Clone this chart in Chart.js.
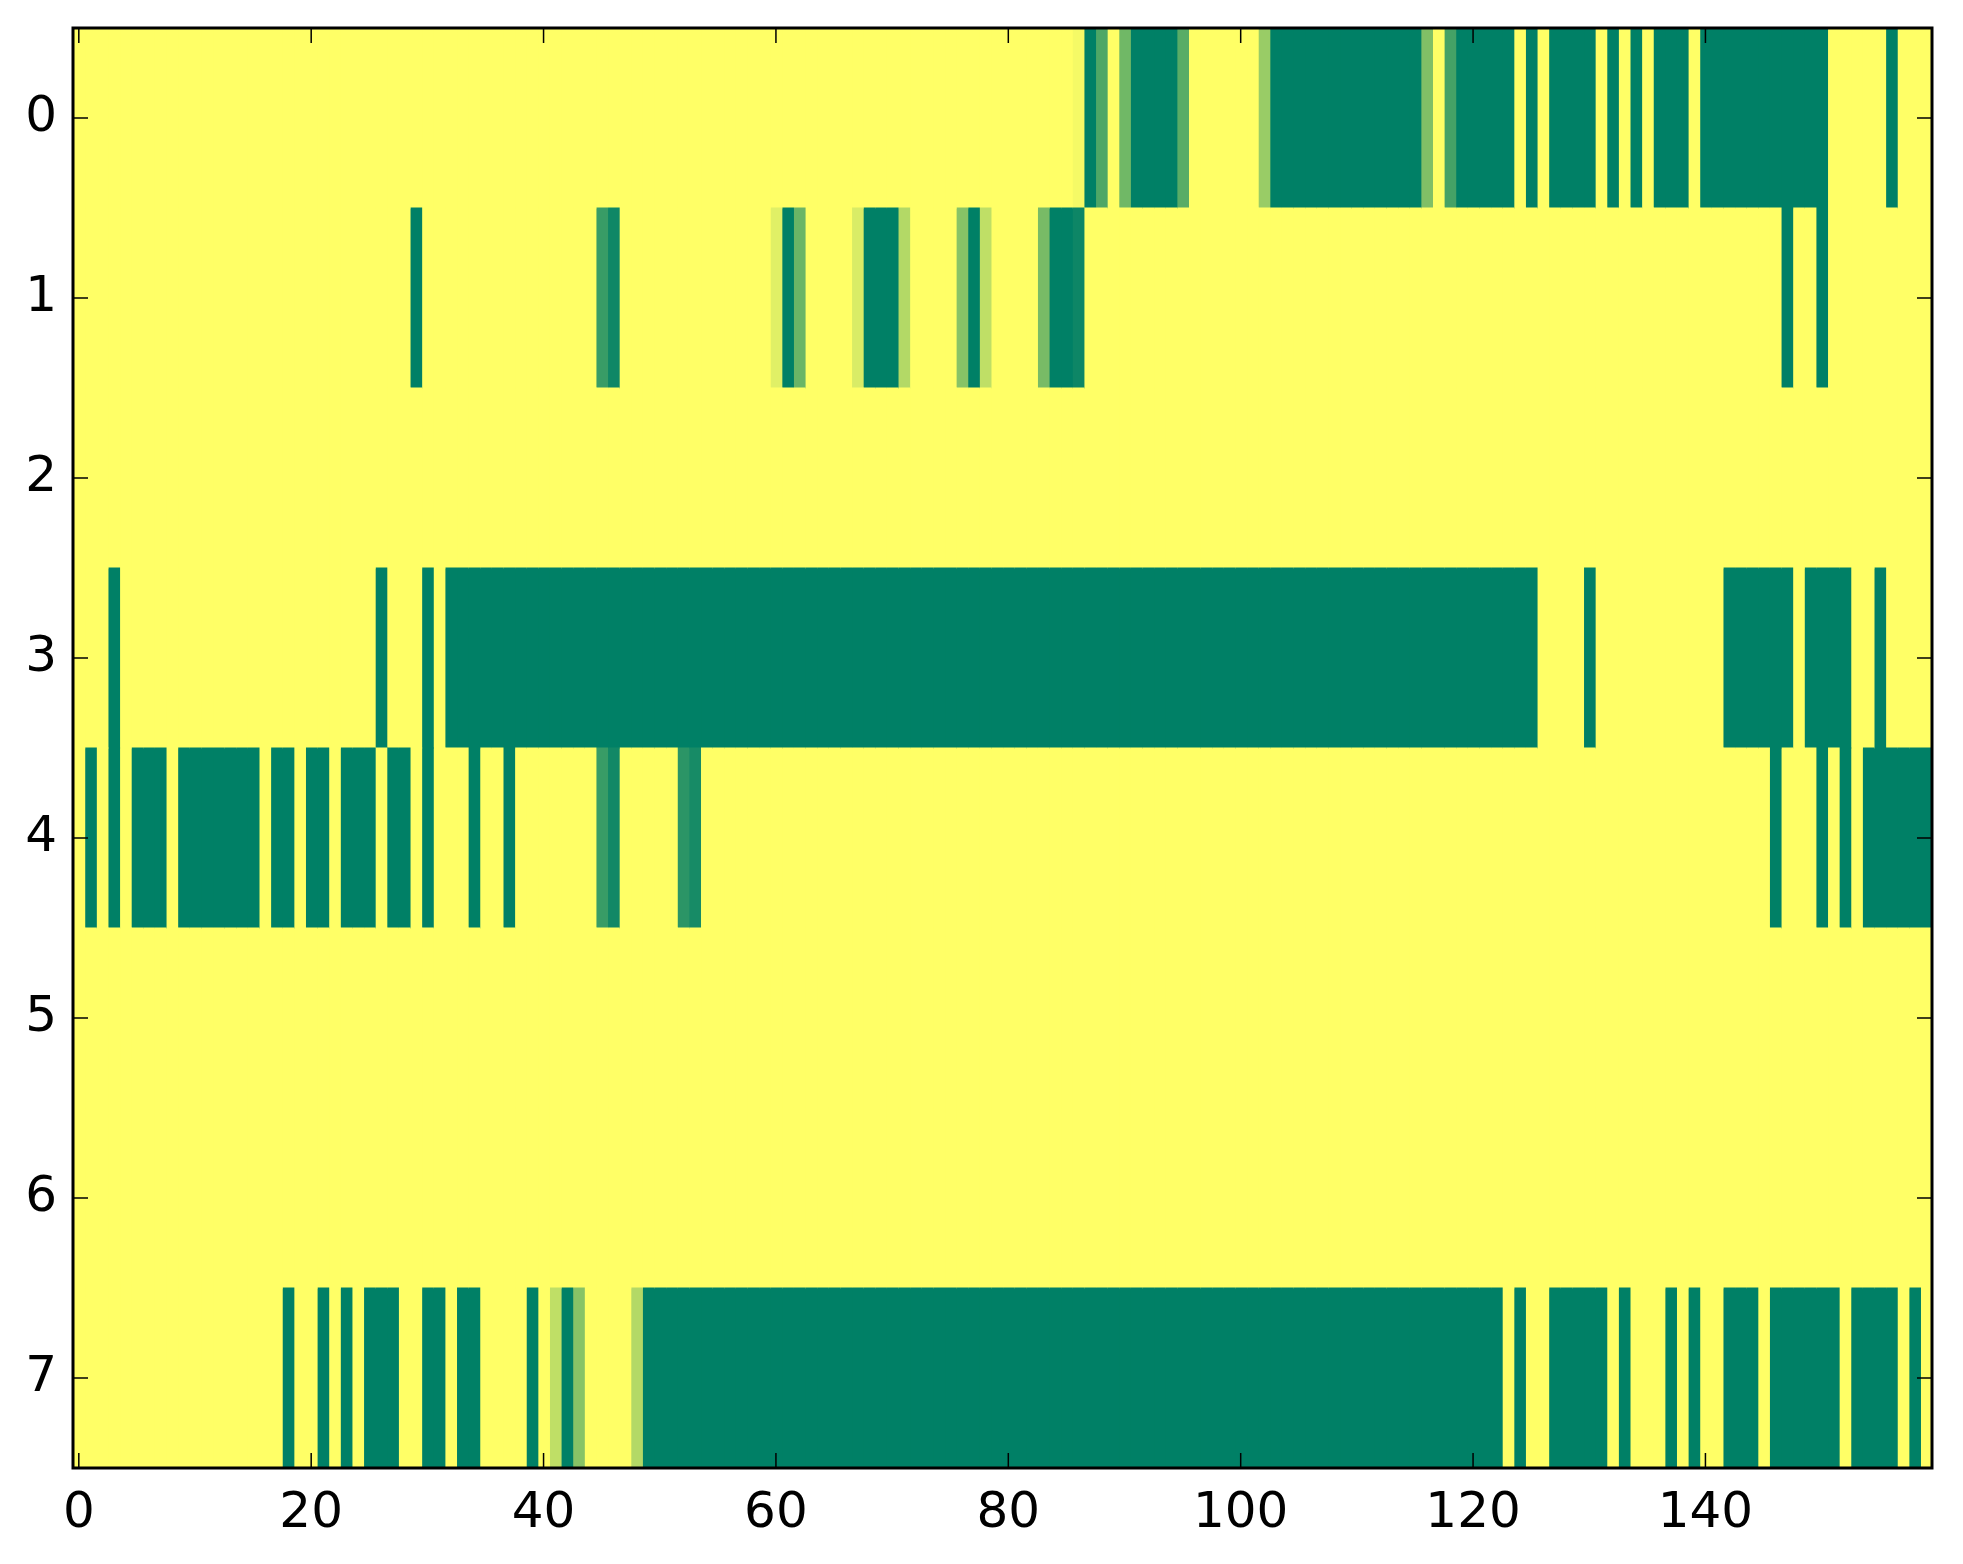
<!DOCTYPE html>
<html>
<head>
<meta charset="utf-8">
<script src="https://cdn.jsdelivr.net/npm/chart.js@4.4.1/dist/chart.umd.min.js"></script>
<style>
  html, body { margin: 0; padding: 0; background: #ffffff; }
  #wrap { width: 1963px; height: 1564px; }
</style>
</head>
<body>
<div id="wrap"><canvas id="c" width="1963" height="1564"></canvas></div>
<script>
// Row labels (y categories)
const rowLabels = ['0', '1', '2', '3', '4', '5', '6', '7'];
// X tick values
const xTickValues = [0, 20, 40, 60, 80, 100, 120, 140];

// Cell values per row (0 = dark green, 1 = yellow), 160 columns each
const row0 = [
  1,1,1,1,1,1,1,1,1,1, 1,1,1,1,1,1,1,1,1,1, 1,1,1,1,1,1,1,1,1,1, 1,1,1,1,1,1,1,1,1,1,
  1,1,1,1,1,1,1,1,1,1, 1,1,1,1,1,1,1,1,1,1, 1,1,1,1,1,1,1,1,1,1, 1,1,1,1,1,1,1,1,1,1,
  1,1,1,1,1,1,.96,0,.31,1, .44,0,0,0,0,.35,1,1,1,1, 1,1,.6,0,0,0,0,0,0,0, 0,0,0,0,0,0,.5,1,.27,0,
  0,0,0,0,1,0,1,0,0,0, 0,1,0,1,0,1,0,0,0,1, 0,0,0,0,0,0,0,0,0,0, 0,1,1,1,1,1,0,1,1,1
];
const row1 = [
  1,1,1,1,1,1,1,1,1,1, 1,1,1,1,1,1,1,1,1,1, 1,1,1,1,1,1,1,1,1,0, 1,1,1,1,1,1,1,1,1,1,
  1,1,1,1,1,.22,.06,1,1,1, 1,1,1,1,1,1,1,1,1,1, .88,0,.42,1,1,1,1,.85,0,0, 0,.7,1,1,1,1,.53,0,.75,1,
  1,1,1,.47,0,0,.05,1,1,1, 1,1,1,1,1,1,1,1,1,1, 1,1,1,1,1,1,1,1,1,1, 1,1,1,1,1,1,1,1,1,1,
  1,1,1,1,1,1,1,1,1,1, 1,1,1,1,1,1,1,1,1,1, 1,1,1,1,1,1,1,0,1,1, 0,1,1,1,1,1,1,1,1,1
];
const row2 = [
  1,1,1,1,1,1,1,1,1,1, 1,1,1,1,1,1,1,1,1,1, 1,1,1,1,1,1,1,1,1,1, 1,1,1,1,1,1,1,1,1,1,
  1,1,1,1,1,1,1,1,1,1, 1,1,1,1,1,1,1,1,1,1, 1,1,1,1,1,1,1,1,1,1, 1,1,1,1,1,1,1,1,1,1,
  1,1,1,1,1,1,1,1,1,1, 1,1,1,1,1,1,1,1,1,1, 1,1,1,1,1,1,1,1,1,1, 1,1,1,1,1,1,1,1,1,1,
  1,1,1,1,1,1,1,1,1,1, 1,1,1,1,1,1,1,1,1,1, 1,1,1,1,1,1,1,1,1,1, 1,1,1,1,1,1,1,1,1,1
];
const row3 = [
  1,1,1,0,1,1,1,1,1,1, 1,1,1,1,1,1,1,1,1,1, 1,1,1,1,1,1,0,1,1,1, 0,1,0,0,0,0,0,0,0,0,
  0,0,0,0,0,0,0,0,0,0, 0,0,0,0,0,0,0,0,0,0, 0,0,0,0,0,0,0,0,0,0, 0,0,0,0,0,0,0,0,0,0,
  0,0,0,0,0,0,0,0,0,0, 0,0,0,0,0,0,0,0,0,0, 0,0,0,0,0,0,0,0,0,0, 0,0,0,0,0,0,0,0,0,0,
  0,0,0,0,0,0,1,1,1,1, 0,1,1,1,1,1,1,1,1,1, 1,1,0,0,0,0,0,0,1,0, 0,0,0,1,1,0,1,1,1,1
];
const row4 = [
  1,0,1,0,1,0,0,0,1,0, 0,0,0,0,0,0,1,0,0,1, 0,0,1,0,0,0,1,0,0,1, 0,1,1,1,0,1,1,0,1,1,
  1,1,1,1,1,.22,.07,1,1,1, 1,1,.17,.09,1,1,1,1,1,1, 1,1,1,1,1,1,1,1,1,1, 1,1,1,1,1,1,1,1,1,1,
  1,1,1,1,1,1,1,1,1,1, 1,1,1,1,1,1,1,1,1,1, 1,1,1,1,1,1,1,1,1,1, 1,1,1,1,1,1,1,1,1,1,
  1,1,1,1,1,1,1,1,1,1, 1,1,1,1,1,1,1,1,1,1, 1,1,1,1,1,1,0,1,1,1, 0,1,0,1,0,0,0,0,0,0
];
const row5 = [
  1,1,1,1,1,1,1,1,1,1, 1,1,1,1,1,1,1,1,1,1, 1,1,1,1,1,1,1,1,1,1, 1,1,1,1,1,1,1,1,1,1,
  1,1,1,1,1,1,1,1,1,1, 1,1,1,1,1,1,1,1,1,1, 1,1,1,1,1,1,1,1,1,1, 1,1,1,1,1,1,1,1,1,1,
  1,1,1,1,1,1,1,1,1,1, 1,1,1,1,1,1,1,1,1,1, 1,1,1,1,1,1,1,1,1,1, 1,1,1,1,1,1,1,1,1,1,
  1,1,1,1,1,1,1,1,1,1, 1,1,1,1,1,1,1,1,1,1, 1,1,1,1,1,1,1,1,1,1, 1,1,1,1,1,1,1,1,1,1
];
const row6 = [
  1,1,1,1,1,1,1,1,1,1, 1,1,1,1,1,1,1,1,1,1, 1,1,1,1,1,1,1,1,1,1, 1,1,1,1,1,1,1,1,1,1,
  1,1,1,1,1,1,1,1,1,1, 1,1,1,1,1,1,1,1,1,1, 1,1,1,1,1,1,1,1,1,1, 1,1,1,1,1,1,1,1,1,1,
  1,1,1,1,1,1,1,1,1,1, 1,1,1,1,1,1,1,1,1,1, 1,1,1,1,1,1,1,1,1,1, 1,1,1,1,1,1,1,1,1,1,
  1,1,1,1,1,1,1,1,1,1, 1,1,1,1,1,1,1,1,1,1, 1,1,1,1,1,1,1,1,1,1, 1,1,1,1,1,1,1,1,1,1
];
const row7 = [
  1,1,1,1,1,1,1,1,1,1, 1,1,1,1,1,1,1,1,0,1, 1,0,1,0,1,0,0,0,1,1, 0,0,1,0,0,1,1,1,1,0,
  1,.75,0,.53,1,1,1,1,.7,0, 0,0,0,0,0,0,0,0,0,0, 0,0,0,0,0,0,0,0,0,0, 0,0,0,0,0,0,0,0,0,0,
  0,0,0,0,0,0,0,0,0,0, 0,0,0,0,0,0,0,0,0,0, 0,0,0,0,0,0,0,0,0,0, 0,0,0,0,0,0,0,0,0,0,
  0,0,0,1,0,1,1,0,0,0, 0,0,1,0,1,1,1,0,1,0, 1,1,0,0,0,1,0,0,0,0, 0,0,1,0,0,0,0,1,0,1
];

const rows = [row0, row1, row2, row3, row4, row5, row6, row7];

// 'summer' colormap
function summer(v) {
  const r = Math.round(255 * v);
  const g = Math.round(255 * (0.5 + 0.5 * v));
  return 'rgb(' + r + ',' + g + ',102)';
}

const nCols = row0.length;
const datasets = [];
for (let c = 0; c < nCols; c++) {
  datasets.push({
    data: rows.map(() => [c - 0.5, c + 0.5]),
    backgroundColor: rows.map(r => summer(r[c])),
    borderWidth: 0,
    grouped: false,
    barPercentage: 1.0,
    categoryPercentage: 1.0,
    inflateAmount: 0.6
  });
}

const FONT = { family: 'DejaVu Sans', size: 50 };

const framePlugin = {
  id: 'frame',
  afterDatasetsDraw(chart) {
    const ctx = chart.ctx;
    const a = chart.chartArea;
    const xs = chart.scales.x, ys = chart.scales.y;
    const tl = 15;
    ctx.save();
    ctx.strokeStyle = '#000';
    ctx.lineWidth = 1.5;
    ctx.beginPath();
    xTickValues.forEach(v => {
      const px = xs.getPixelForValue(v);
      ctx.moveTo(px, a.bottom); ctx.lineTo(px, a.bottom - tl);
      ctx.moveTo(px, a.top); ctx.lineTo(px, a.top + tl);
    });
    rowLabels.forEach((l, i) => {
      const py = ys.getPixelForValue(i);
      ctx.moveTo(a.left, py); ctx.lineTo(a.left + tl, py);
      ctx.moveTo(a.right, py); ctx.lineTo(a.right - tl, py);
    });
    ctx.stroke();
    ctx.lineWidth = 3;
    ctx.strokeRect(a.left, a.top, a.right - a.left, a.bottom - a.top);
    ctx.restore();
  }
};

new Chart(document.getElementById('c'), {
  type: 'bar',
  data: { labels: rowLabels, datasets: datasets },
  options: {
    indexAxis: 'y',
    responsive: false,
    devicePixelRatio: 1,
    animation: false,
    layout: { padding: { left: 0, right: 31, top: 28, bottom: 0 } },
    plugins: { legend: { display: false }, tooltip: { enabled: false } },
    scales: {
      x: {
        type: 'linear',
        min: -0.5,
        max: 159.5,
        grid: { display: false, drawTicks: false },
        border: { display: false },
        afterBuildTicks: s => { s.ticks = xTickValues.map(v => ({ value: v })); },
        afterFit: s => { s.height = 96; s.paddingLeft = 0; s.paddingRight = 0; },
        ticks: { font: FONT, color: '#000', padding: 16, maxRotation: 0, autoSkip: false }
      },
      y: {
        type: 'category',
        grid: { display: false, drawTicks: false },
        border: { display: false },
        afterFit: s => { s.width = 73; s.paddingTop = 0; s.paddingBottom = 0; },
        ticks: { font: FONT, color: '#000', padding: 16 }
      }
    }
  },
  plugins: [framePlugin]
});
</script>
</body>
</html>
